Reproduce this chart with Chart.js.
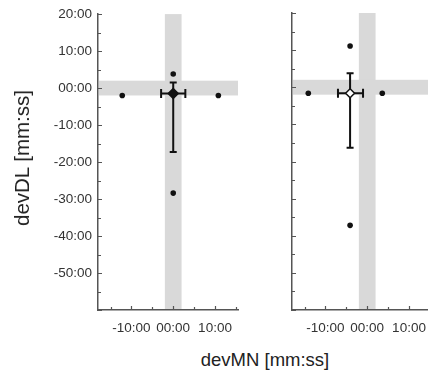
<!DOCTYPE html>
<html>
<head>
<meta charset="utf-8">
<script src="https://cdn.jsdelivr.net/npm/chart.js@4/dist/chart.umd.min.js"></script>
<style>
  html, body { margin: 0; padding: 0; background: #fff; overflow: hidden; width: 428px; height: 373px; }
  canvas { position: absolute; top: 0; }
  #cA { left: 0; }
  #cB { left: 245px; }
  .title { position: absolute; font-family: "Liberation Sans", Arial, sans-serif; color: #222; white-space: nowrap; }
  #xTitle { left: 265px; top: 360px; font-size: 18.5px; transform: translate(-50%, -50%); }
  #yTitle { left: 22px; top: 158px; font-size: 20.5px; transform: translate(-50%, -50%) rotate(-90deg); }
</style>
</head>
<body>
<canvas id="cA" width="245" height="345"></canvas>
<canvas id="cB" width="194" height="345"></canvas>
<div id="xTitle" class="title">devMN [mm:ss]</div>
<div id="yTitle" class="title">devDL [mm:ss]</div>
<script>
// axis ticks (minutes)
const xTickVals = [-10, 0, 10];
const yTickVals = [20, 10, 0, -10, -20, -30, -40, -50];
const xRange = [-18, 15.5];
const yRange = [-60, 20];
const bandA = [-2, 2];
const bandB = [-2, 2];

// panel A – single points
const ptsAx = [-12.2, 0, 10.8, 0];
const ptsAy = [-2, 3.8, -2, -28.4];
// panel A – mean and error bars
const meanAx = [0];
const meanAy = [-1.45];
const errAx = [-2.9, 2.9];
const errAy = [-17.3, 1.5];

// panel B – single points
const ptsBx = [-14.1, -4.1, 3.6, -4.1];
const ptsBy = [-1.6, 11.1, -1.6, -37.2];
// panel B – mean and error bars
const meanBx = [-4.1];
const meanBy = [-1.6];
const errBx = [-7.0, -1.0];
const errBy = [-16.3, 3.8];

const ink = '#111';
const band = '#d9d9d9';
const axisCol = '#555';
const font = { family: '"Liberation Sans", Arial, sans-serif', size: 13.5 };

const fmt = v => (v < 0 ? '-' : '') + String(Math.abs(v)).padStart(2, '0') + ':00';
const zip = (xs, ys) => xs.map((x, i) => ({ x, y: ys[i] }));

/* ─── bands, error bars and inward tick marks ─────────────────────────── */

const panelPlugin = {
    id: 'panel',
    beforeDatasetsDraw(chart, args, o) {
        const { ctx, chartArea: a, scales: { x, y } } = chart;
        ctx.save();
        ctx.fillStyle = band;
        const bx0 = x.getPixelForValue(o.band[0]), bx1 = x.getPixelForValue(o.band[1]);
        ctx.fillRect(bx0, a.top, bx1 - bx0, a.bottom - a.top - 1);
        const by0 = y.getPixelForValue(o.band[1]), by1 = y.getPixelForValue(o.band[0]);
        ctx.fillRect(a.left + 1, by0, a.right - a.left - 1, by1 - by0);

        // error bars
        ctx.strokeStyle = ink;
        ctx.lineWidth = 2;
        const mx = x.getPixelForValue(o.mean[0]), my = y.getPixelForValue(o.mean[1]);
        const yT = y.getPixelForValue(o.errY[1]), yB = y.getPixelForValue(o.errY[0]);
        const xL = x.getPixelForValue(o.errX[0]), xR = x.getPixelForValue(o.errX[1]);
        ctx.beginPath();
        ctx.moveTo(mx, yT); ctx.lineTo(mx, yB);
        ctx.moveTo(mx - 3.5, yT); ctx.lineTo(mx + 3.5, yT);
        ctx.moveTo(mx - 3.5, yB); ctx.lineTo(mx + 3.5, yB);
        ctx.moveTo(xL, my); ctx.lineTo(xR, my);
        ctx.moveTo(xL, my - 4.5); ctx.lineTo(xL, my + 4.5);
        ctx.moveTo(xR, my - 4.5); ctx.lineTo(xR, my + 4.5);
        ctx.stroke();
        ctx.restore();
    },
    afterDraw(chart) {
        const { ctx, chartArea: a, scales: { x, y } } = chart;
        ctx.save();
        ctx.strokeStyle = axisCol;
        ctx.lineWidth = 1.2;
        ctx.beginPath();
        for (let v = yRange[0]; v <= yRange[1]; v += 5) {
            const py = Math.round(y.getPixelForValue(v)) + 0.5;
            ctx.moveTo(a.left, py); ctx.lineTo(a.left + (v % 10 === 0 ? 4 : 3), py);
        }
        for (let v = -15; v <= xRange[1]; v += 5) {
            const px = Math.round(x.getPixelForValue(v)) + 0.5;
            ctx.moveTo(px, a.bottom); ctx.lineTo(px, a.bottom - (v % 10 === 0 ? 4 : 3));
        }
        ctx.stroke();
        ctx.restore();
    }
};

function mkPanel(pts, mean, filled, errX, errY, bnd, showY, yWidth) {
    return {
        type: 'scatter',
        data: {
            datasets: [
                { data: pts, pointRadius: 2.8, pointBackgroundColor: ink, pointBorderWidth: 0 },
                { data: mean, pointStyle: 'rectRot', pointRadius: filled ? 5 : 4.5,
                  pointBackgroundColor: filled ? ink : '#fff', pointBorderColor: ink, pointBorderWidth: 1.5 }
            ]
        },
        options: {
            responsive: false,
            animation: false,
            layout: { padding: { top: 13, right: 7, left: 0, bottom: 0 } },
            plugins: {
                legend: { display: false },
                tooltip: { enabled: false },
                panel: { band: bnd, mean: [mean[0].x, mean[0].y], errX, errY }
            },
            scales: {
                x: {
                    min: xRange[0], max: xRange[1],
                    afterBuildTicks: s => { s.ticks = xTickVals.map(v => ({ value: v })); },
                    afterFit: s => { s.height = 35; },
                    ticks: { font, color: '#333', padding: 10, callback: fmt, maxRotation: 0 },
                    grid: { display: false, drawTicks: false },
                    border: { color: axisCol, width: 1.5 }
                },
                y: {
                    min: yRange[0], max: yRange[1],
                    afterBuildTicks: s => { s.ticks = yTickVals.map(v => ({ value: v })); },
                    afterFit: s => { s.width = yWidth; },
                    ticks: { display: showY, font, color: '#333', padding: 6, callback: fmt },
                    grid: { display: false, drawTicks: false },
                    border: { color: axisCol, width: 1.5 }
                }
            }
        },
        plugins: [panelPlugin]
    };
}

new Chart(document.getElementById('cA'),
    mkPanel(zip(ptsAx, ptsAy), zip(meanAx, meanAy), true, errAx, errAy, bandA, true, 98));
new Chart(document.getElementById('cB'),
    mkPanel(zip(ptsBx, ptsBy), zip(meanBx, meanBy), false, errBx, errBy, bandB, false, 47));
</script>
</body>
</html>
